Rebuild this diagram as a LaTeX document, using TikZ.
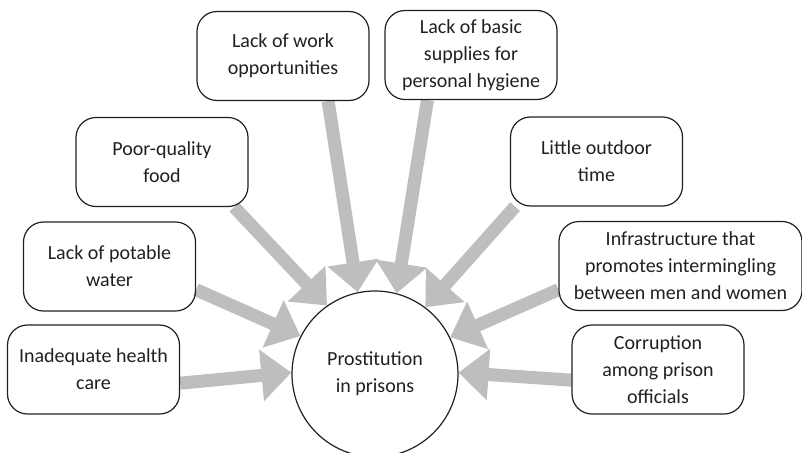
\documentclass[tikz,border=0pt]{standalone}
\usepackage{fontspec}
\setmainfont{Carlito}
\usepackage{xcolor}
\usepackage{tikz}
\usetikzlibrary{arrows.meta,backgrounds}
\definecolor{causegray}{HTML}{BCBEC0}
\definecolor{ink}{HTML}{231F20}

\begin{document}
\begin{tikzpicture}[x=1pt, y=-1pt,
		factor/.style={draw=ink, line width=1.2pt, rounded corners=20pt, minimum width=172pt, minimum height=89pt, align=center, text=ink, font=\fontsize{20}{27}\selectfont},
		effect/.style={circle, draw=ink, line width=1.2pt, minimum size=166pt, align=center, text=ink, font=\fontsize{20}{27}\selectfont},
		cause/.style={draw=causegray, line width=13pt, -{Triangle[length=30pt, width=50pt]}}]
			\useasboundingbox (0,0) rectangle (802,452);
			% Nodes
			\node[effect] (prison) at (375,374) {Prostitution\\in prisons};
			\node[factor] (health) at (93.5,369.5) {Inadequate health\\care};
			\node[factor] (water) at (109.5,266.5) {Lack of potable\\water};
			\node[factor] (food) at (162,162) {Poor-quality\\food};
			\node[factor] (work) at (283,56) {Lack of work\\opportunities};
			\node[factor] (supplies) at (471,55) {Lack of basic\\supplies for\\personal hygiene};
			\node[factor] (outdoor) at (596.5,161.5) {Little outdoor\\time};
			\node[factor, minimum width=243pt] (infra) at (680.5,266) {Infrastructure that\\promotes intermingling\\between men and women};
			\node[factor] (corrupt) at (658,369.5) {Corruption\\among prison\\officials};
			% Edges
			\begin{scope}[on background layer]
			\draw[cause] (health.-9) -- (prison.179);
			\draw[cause] (water.-15) -- (prison.153);
			\draw[cause] (food.-32) -- (prison.125);
			\draw[cause] (work.-45) -- (prison.102);
			\draw[cause] (supplies.-134) -- (prison.75);
			\draw[cause] (outdoor.-151) -- (prison.53);
			\draw[cause] (infra.-169) -- (prison.26);
			\draw[cause] (corrupt.-173) -- (prison.1);
			\end{scope}
		\end{tikzpicture}
\end{document}
